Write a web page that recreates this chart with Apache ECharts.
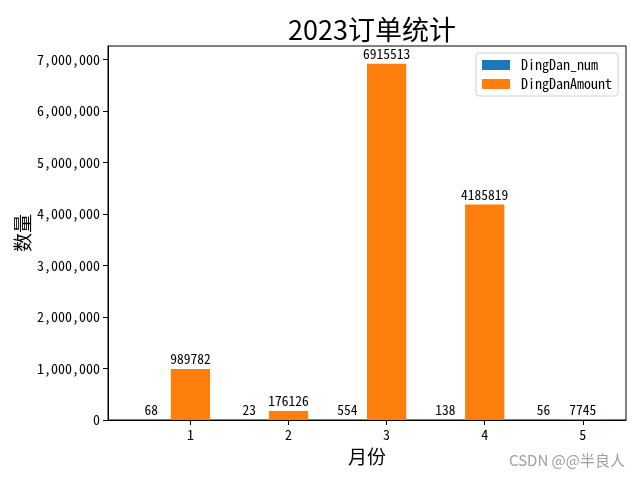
<!DOCTYPE html>
<html><head><meta charset="utf-8">
<script src="https://cdn.jsdelivr.net/npm/echarts@6/dist/echarts.min.js"></script>
<style>html,body{margin:0;padding:0;background:#fff}#c{width:640px;height:480px}</style>
</head><body><div id="c"></div>
<script>
const months = [1, 2, 3, 4, 5];
const dingDanNum = [68, 23, 554, 138, 56];
const dingDanAmount = [989782, 176126, 6915513, 4185819, 7745];
const yTicks = [0, 1000000, 2000000, 3000000, 4000000, 5000000, 6000000, 7000000];
const seriesNames = ['DingDan_num', 'DingDanAmount'];

const barW = 0.4;
const xMin = 0.16, xMax = 5.44;
const yMax = Math.max(...dingDanAmount) * 1.05;
const gridL = 108, gridR = 14, gridT = 46, gridB = 60;
const barPx = (640 - gridL - gridR) / (xMax - xMin) * barW;
const mono = '"Noto Sans Mono CJK SC", "DejaVu Sans Mono", "Noto Sans CJK SC", monospace';
const cjk = '"Noto Sans CJK SC", sans-serif';

const chart = echarts.init(document.getElementById('c'), null, {renderer: 'canvas'});
const labelCfg = {show: true, position: 'top', distance: 3, color: '#000', fontFamily: mono, fontSize: 13.5};
chart.setOption({
  animation: false,
  color: ['#1f77b4', '#ff7f0e'],
  title: {text: '2023订单统计', left: 367, textAlign: 'center', top: 11,
    textStyle: {fontFamily: cjk, fontSize: 27, fontWeight: 'normal', color: '#000'}},
  legend: {orient: 'vertical', right: 22, top: 53, icon: 'rect', itemWidth: 28, itemHeight: 10,
    itemGap: 5, padding: [5, 6, 5, 6], borderColor: '#d0d0d0', borderWidth: 1, borderRadius: 3,
    textStyle: {fontFamily: mono, fontSize: 14, color: '#000', lineHeight: 14, padding: [0, 0, 0, 6]},
    data: seriesNames},
  grid: {left: gridL, right: gridR, top: gridT, bottom: gridB, show: true, borderColor: '#000', borderWidth: 1},
  xAxis: {type: 'value', min: xMin, max: xMax, name: '月份', nameLocation: 'middle', nameGap: 27,
    nameMoveOverlap: false,
    nameTextStyle: {fontFamily: cjk, fontSize: 19, color: '#000'},
    axisLine: {show: true, lineStyle: {color: '#000'}},
    axisTick: {show: true, length: 5, inside: false, customValues: months, lineStyle: {color: '#000'}},
    axisLabel: {customValues: months, color: '#000', fontFamily: mono, fontSize: 14, margin: 8},
    splitLine: {show: false}},
  yAxis: {type: 'value', min: 0, max: yMax, name: '数量', nameLocation: 'middle', nameGap: 76, nameRotate: 90,
    nameMoveOverlap: false,
    nameTextStyle: {fontFamily: cjk, fontSize: 19, color: '#000'},
    axisLine: {show: true, lineStyle: {color: '#000'}},
    axisTick: {show: true, length: 5, customValues: yTicks, lineStyle: {color: '#000'}},
    axisLabel: {customValues: yTicks, color: '#000', fontFamily: mono, fontSize: 14, margin: 8,
      formatter: v => Number(v).toLocaleString('en-US')},
    splitLine: {show: false}},
  series: [
    {name: seriesNames[0], type: 'bar', barWidth: barPx, barGap: '-100%',
      data: months.map((m, i) => [m - barW, dingDanNum[i]]), label: labelCfg},
    {name: seriesNames[1], type: 'bar', barWidth: barPx, barGap: '-100%',
      data: months.map((m, i) => [m, dingDanAmount[i]]), label: labelCfg}
  ],
  graphic: [{type: 'text', right: 15, top: 453,
    style: {text: 'CSDN @@半良人', fill: '#a0a0a0', font: '15px "Noto Sans CJK SC", sans-serif'}}]
});
</script></body></html>
